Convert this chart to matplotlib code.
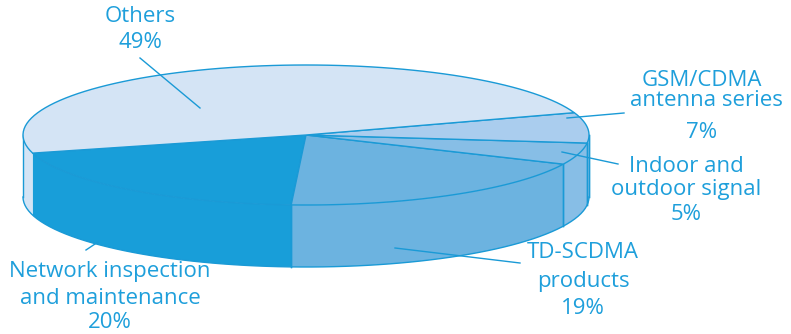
import numpy as np
import matplotlib.pyplot as plt
from matplotlib.patches import Polygon

# data (counter-clockwise from the front-left)
labels = ['Network inspection\nand maintenance', 'TD-SCDMA\nproducts',
          'Indoor and\noutdoor signal', 'GSM/CDMA\nantenna series', 'Others']
shares = [20, 19, 5, 7, 49]
colors = ['#189ed9', '#6cb3e0', '#87bee6', '#aacdee', '#d4e4f5']

edge = '#1a9ad6'
txt = '#1e9fdb'
plt.rcParams['font.family'] = ['Open Sans', 'DejaVu Sans']

# pie geometry in pixel units
cx, cy, a, b, depth = 306, 135, 283, 70, 62
start = 195.0

def pt(t, dz=0):
    r = np.radians(t)
    return cx + a * np.cos(r), cy - b * np.sin(r) + dz

def arc(t0, t1, dz=0, n=80):
    ts = np.linspace(t0, t1, n)
    r = np.radians(ts)
    return np.column_stack([cx + a * np.cos(r), cy - b * np.sin(r) + dz])

fig = plt.figure(figsize=(7.91, 3.34), dpi=100)
ax = fig.add_axes([0, 0, 1, 1])
ax.set_xlim(0, 791)
ax.set_ylim(334, 0)
ax.axis('off')

bounds = start + 360 * np.concatenate([[0], np.cumsum(shares)]) / sum(shares)

# side walls (front half only)
for i in range(len(shares)):
    s, e = bounds[i], bounds[i + 1]
    for lo, hi in [(180, 360), (540, 720)]:
        t0, t1 = max(s, lo), min(e, hi)
        if t1 <= t0:
            continue
        top = arc(t0, t1)
        bot = arc(t1, t0, depth)
        ax.add_patch(Polygon(np.vstack([top, bot]), closed=True,
                             facecolor=colors[i], edgecolor='none', zorder=1))
        # vertical edges at visible slice boundaries
        for t in (t0, t1):
            if t % 360 in (180.0, 195.0):
                continue
            x, y = pt(t)
            ax.plot([x, x], [y, y + depth], color=edge, lw=1, zorder=2)

# outline of the wall
ax.plot(*arc(180, 360, depth).T, color=edge, lw=1, zorder=2)
for t in (180, 360):
    x, y = pt(t)
    ax.plot([x, x], [y, y + depth], color=edge, lw=1, zorder=2)

# top face wedges
for i in range(len(shares)):
    pts = np.vstack([[cx, cy], arc(bounds[i], bounds[i + 1])])
    ax.add_patch(Polygon(pts, closed=True, facecolor=colors[i],
                         edgecolor=edge, lw=1, zorder=3))

# leader lines
leaders = [((86, 250), (98, 242)), ((395, 248), (520, 263)),
           ((562, 152), (618, 164)), ((567, 118), (624, 113)),
           ((140, 58), (200, 108))]
for (x0, y0), (x1, y1) in leaders:
    ax.plot([x0, x1], [y0, y1], color=edge, lw=1, zorder=4)

# labels
fs = 16
def put(x, y, s):
    ax.text(x, y, s, color=txt, fontsize=fs, ha='center', va='center')

put(140, 16, 'Others')
put(140, 43, '49%')

put(110, 272, 'Network inspection')
put(110, 298, 'and maintenance')
put(110, 323, '20%')

put(583, 253, 'TD-SCDMA')
put(583, 282, 'products')
put(583, 309, '19%')

put(686, 166, 'Indoor and')
put(686, 189, 'outdoor signal')
put(686, 215, '5%')

put(702, 81, 'GSM/CDMA')
put(706, 101, 'antenna series')
put(702, 133, '7%')

fig.savefig('out.png', dpi=100)
